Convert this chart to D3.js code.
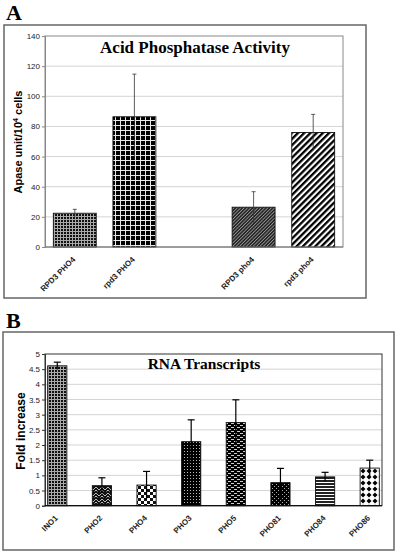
<!DOCTYPE html>
<html>
<head>
<meta charset="utf-8">
<script src="https://cdn.jsdelivr.net/npm/d3@7"></script>
<style>
html,body{margin:0;padding:0;background:#fff;}
svg{display:block;}
</style>
</head>
<body>
<svg id="chart" width="400" height="552"></svg>
<script>
// ---------- DATA ----------
const aCategories = ["RPD3 PHO4", "rpd3 PHO4", "", "RPD3 pho4", "rpd3 pho4"];
const aValues = [22.4, 86.4, null, 26.4, 76];
const aErrors = [2.6, 28.3, null, 10.3, 12];
const aTicks = [0, 20, 40, 60, 80, 100, 120, 140];
const aPatterns = ["gridSmall", "gridLarge", null, "diagDense", "diagWide"];

const bCategories = ["INO1", "PHO2", "PHO4", "PHO3", "PHO5", "PHO81", "PHO84", "PHO86"];
const bValues = [4.61, 0.66, 0.68, 2.11, 2.74, 0.76, 0.95, 1.24];
const bErrors = [0.12, 0.26, 0.45, 0.72, 0.75, 0.47, 0.15, 0.26];
const bTicks = [0, 0.5, 1, 1.5, 2, 2.5, 3, 3.5, 4, 4.5, 5];
const bPatterns = ["gridSmall", "wave", "checker", "dotsDense", "dashes", "dotsSparse", "hstripes", "diamonds"];

// ---------- PATTERNS ----------
const svg = d3.select("#chart");
const defs = svg.append("defs");
function pat(id, w, h, transform) {
  const p = defs.append("pattern").attr("id", id).attr("patternUnits", "userSpaceOnUse")
    .attr("width", w).attr("height", h);
  if (transform) p.attr("patternTransform", transform);
  return p;
}
function r(p, x, y, w, h, c) { p.append("rect").attr("x", x).attr("y", y).attr("width", w).attr("height", h).attr("fill", c); }
let p;
p = pat("gridSmall", 3, 3);
r(p, 0, 0, 3, 3, "#aaa"); r(p, 1, 1, 2, 2, "#111");
p = pat("gridLarge", 5, 5);
r(p, 0, 0, 5, 5, "#e8e8e8"); r(p, 1, 1, 4, 4, "#000");
p = pat("diagDense", 2.4, 2.4, "rotate(45)");
r(p, 0, 0, 2.4, 2.4, "#262626"); r(p, 0, 0, 0.8, 2.4, "#999");
p = pat("diagWide", 4.4, 4.4, "rotate(45)");
r(p, 0, 0, 4.4, 4.4, "#fff"); r(p, 0, 0, 2.3, 4.4, "#000");
p = pat("wave", 6, 6);
r(p, 0, 0, 6, 6, "#111");
p.append("path").attr("d", "M0,1 L3,4 L6,1 M0,4 L1.5,5.5 M4.5,5.5 L6,4").attr("stroke", "#ccc").attr("stroke-width", 0.9).attr("fill", "none");
p = pat("checker", 6, 6);
r(p, 0, 0, 6, 6, "#fff"); r(p, 0, 0, 3, 3, "#111"); r(p, 3, 3, 3, 3, "#111");
p = pat("dotsDense", 3, 3);
r(p, 0, 0, 3, 3, "#000"); r(p, 1, 1, 1, 1, "#bbb");
p = pat("dashes", 6, 4);
r(p, 0, 0, 6, 4, "#000"); r(p, 0, 1, 3, 1, "#ccc"); r(p, 3, 3, 3, 1, "#ccc");
p = pat("dotsSparse", 4, 4);
r(p, 0, 0, 4, 4, "#000"); r(p, 0, 0, 1, 1, "#aaa"); r(p, 2, 2, 1, 1, "#aaa");
p = pat("hstripes", 3, 3);
r(p, 0, 0, 3, 3, "#fff"); r(p, 0, 0, 3, 2, "#222");
p = pat("diamonds", 6, 6);
r(p, 0, 0, 6, 6, "#fff");
p.append("path").attr("d", "M3,0.5 L5.5,3 L3,5.5 L0.5,3 Z").attr("fill", "#000");

// ---------- PANEL DRAWING ----------
function panel(o) {
  const g = svg.append("g");
  g.append("rect").attr("x", o.box[0]).attr("y", o.box[1]).attr("width", o.box[2] - o.box[0]).attr("height", o.box[3] - o.box[1])
    .attr("fill", "none").attr("stroke", "#666").attr("stroke-width", 1.5);
  g.append("text").attr("x", o.letterX).attr("y", o.letterY).text(o.letter)
    .attr("font-family", "Liberation Serif, Times New Roman, serif").attr("font-weight", "bold").attr("font-size", 22);

  const x = d3.scaleBand().domain(o.categories.map((c, i) => i)).range([o.left, o.right])
    .paddingInner(o.padIn).paddingOuter(o.padOut);
  const y = d3.scaleLinear().domain([o.ticks[0], o.ticks[o.ticks.length - 1]]).range([o.bottom, o.top]);

  g.append("g").selectAll("line").data(o.ticks.slice(1, -1)).join("line")
    .attr("x1", o.left).attr("x2", o.right).attr("y1", d => y(d)).attr("y2", d => y(d))
    .attr("stroke", "#d4d4d4").attr("stroke-width", 1);
  g.append("rect").attr("x", o.left).attr("y", o.top).attr("width", o.right - o.left).attr("height", o.bottom - o.top)
    .attr("fill", "none").attr("stroke", o.frameColor).attr("stroke-width", 1);

  const ya = d3.axisLeft(y).tickValues(o.ticks).tickSize(3).tickPadding(2).tickFormat(d3.format(""));
  const yg = g.append("g").attr("transform", `translate(${o.left},0)`).call(ya);
  yg.select(".domain").attr("stroke", o.frameColor);
  yg.selectAll(".tick line").attr("stroke", o.frameColor);
  yg.selectAll("text").attr("font-family", "Liberation Sans, Arial, sans-serif").attr("font-size", 8).attr("fill", "#222");

  const data = o.values.map((v, i) => ({ i, v, e: o.errors[i], pat: o.patterns[i], c: o.categories[i] })).filter(d => d.v != null);
  g.append("g").selectAll("rect").data(data).join("rect")
    .attr("x", d => x(d.i)).attr("width", x.bandwidth())
    .attr("y", d => y(d.v)).attr("height", d => y(0) - y(d.v))
    .attr("fill", d => `url(#${d.pat})`).attr("stroke", "#111").attr("stroke-width", 0.9);

  const eg = g.append("g").attr("stroke", o.errColor).attr("stroke-width", o.errWidth);
  data.forEach(d => {
    const cx = x(d.i) + x.bandwidth() / 2;
    eg.append("line").attr("x1", cx).attr("x2", cx).attr("y1", y(d.v + d.e)).attr("y2", y(d.v - d.e));
    eg.append("line").attr("x1", cx - o.cap).attr("x2", cx + o.cap).attr("y1", y(d.v + d.e)).attr("y2", y(d.v + d.e));
  });

  g.append("line").attr("x1", o.left).attr("x2", o.right).attr("y1", o.bottom).attr("y2", o.bottom)
    .attr("stroke", o.axisColor).attr("stroke-width", 1.2);

  g.append("g").selectAll("text").data(data).join("text")
    .attr("transform", d => `translate(${x(d.i) + x.bandwidth() / 2 + 1},${o.bottom + 13}) rotate(-45)`)
    .attr("text-anchor", "end")
    .attr("font-family", "Liberation Sans, Arial, sans-serif").attr("font-size", 8)
    .attr("font-weight", "bold").attr("fill", "#222")
    .text(d => d.c);

  g.append("text").attr("x", o.titleX).attr("y", o.titleY).attr("text-anchor", "middle")
    .attr("font-family", "Liberation Serif, Times New Roman, serif").attr("font-weight", "bold")
    .attr("font-size", o.titleSize).text(o.title);

  const yl = g.append("text").attr("transform", `translate(${o.ylX},${o.ylY}) rotate(-90)`)
    .attr("text-anchor", "middle").attr("font-family", "Liberation Sans, Arial, sans-serif")
    .attr("font-weight", "bold").attr("font-size", o.ylSize);
  o.ylabel(yl);
}

panel({
  box: [4, 25, 366, 298], letter: "A", letterX: 6, letterY: 20,
  categories: aCategories, values: aValues, errors: aErrors, ticks: aTicks, patterns: aPatterns,
  left: 45, right: 343, top: 36, bottom: 247, padIn: 0.28, padOut: 0.14,
  frameColor: "#888", axisColor: "#777", errColor: "#333", errWidth: 0.8, cap: 2,
  title: "Acid Phosphatase Activity", titleX: 195, titleY: 53, titleSize: 17,
  ylX: 22, ylY: 142, ylSize: 11,
  ylabel: t => { t.append("tspan").text("Apase unit/10"); t.append("tspan").attr("dy", -4).attr("font-size", 7).text("4"); t.append("tspan").attr("dy", 4).text(" cells"); }
});

panel({
  box: [3, 332, 394, 550], letter: "B", letterX: 6, letterY: 328,
  categories: bCategories, values: bValues, errors: bErrors, ticks: bTicks, patterns: bPatterns,
  left: 45, right: 382, top: 354, bottom: 505.7, padIn: 0.57, padOut: 0.06,
  frameColor: "#333", axisColor: "#111", errColor: "#000", errWidth: 1.2, cap: 3.5,
  title: "RNA Transcripts", titleX: 204, titleY: 369, titleSize: 15.5,
  ylX: 25, ylY: 431, ylSize: 12,
  ylabel: t => t.text("Fold increase")
});
</script>
</body>
</html>
